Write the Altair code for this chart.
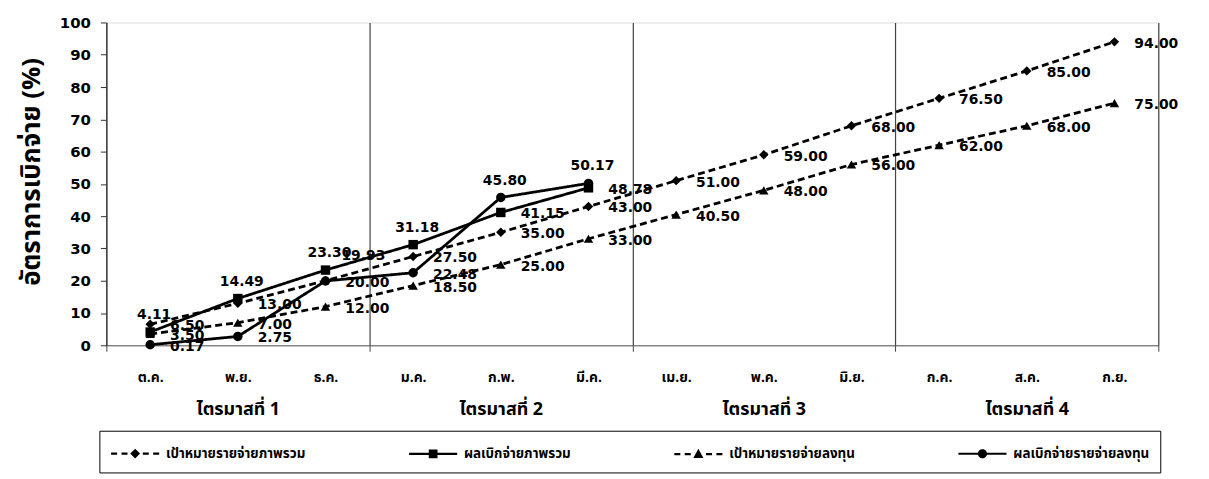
import altair as alt
import pandas as pd

# ---- data ----
months = ["ต.ค.", "พ.ย.", "ธ.ค.", "ม.ค.", "ก.พ.", "มี.ค.", "เม.ย.", "พ.ค.", "มิ.ย.", "ก.ค.", "ส.ค.", "ก.ย."]
quarters = ["ไตรมาสที่ 1", "ไตรมาสที่ 2", "ไตรมาสที่ 3", "ไตรมาสที่ 4"]
series_names = ["เป้าหมายรายจ่ายภาพรวม", "ผลเบิกจ่ายภาพรวม", "เป้าหมายรายจ่ายลงทุน", "ผลเบิกจ่ายรายจ่ายลงทุน"]

target_total = [6.50, 13.00, 20.00, 27.50, 35.00, 43.00, 51.00, 59.00, 68.00, 76.50, 85.00, 94.00]
actual_total = [4.11, 14.49, 23.30, 31.18, 41.15, 48.78]
target_invest = [3.50, 7.00, 12.00, 18.50, 25.00, 33.00, 40.50, 48.00, 56.00, 62.00, 68.00, 75.00]
actual_invest = [0.17, 2.75, 19.93, 22.48, 45.80, 50.17]

# label placement (style) per point
place_target_total = ["right"] * 12
place_actual_total = ["top", "top", "top", "top", "right", "right"]
place_target_invest = ["right"] * 12
place_actual_invest = ["right", "right", "topright", "right", "top", "top"]

rows = []
for name, vals, places in [
    (series_names[0], target_total, place_target_total),
    (series_names[1], actual_total, place_actual_total),
    (series_names[2], target_invest, place_target_invest),
    (series_names[3], actual_invest, place_actual_invest),
]:
    for i, v in enumerate(vals):
        rows.append({"m": i + 1, "series": name, "value": v, "place": places[i]})
df = pd.DataFrame(rows)

THAI = "Tahoma, 'Noto Sans Thai', 'Noto Sans Thai UI', Garuda, Loma, Kinnari, 'DejaVu Sans', sans-serif"
NUM = "'DejaVu Sans', Tahoma, sans-serif"

W, H = 1059, 325
xscale = alt.Scale(domain=[0.5, 12.5], nice=False, zero=False)
yscale = alt.Scale(domain=[0, 100], nice=False, zero=True)

yenc = alt.Y(
    "value:Q", scale=yscale,
    axis=alt.Axis(values=list(range(0, 101, 10)), grid=False, title="อัตราการเบิกจ่าย (%)",
                  orient="left",
                  titleFont=THAI, titleFontSize=26, titleFontWeight="bold", titleColor="black",
                  titlePadding=15, titleY=150,
                  labelFont=NUM, labelFontSize=15, labelFontWeight="bold",
                  labelColor="black", tickColor="#333", tickSize=6, domainColor="#333",
                  labelPadding=10),
)

base = alt.Chart(df)

month_expr = "[" + ",".join("'%s'" % s for s in months) + "][datum.value - 1]"
quarter_expr = "[" + ",".join("'%s'" % s for s in quarters) + "][(datum.value - 2) / 3]"

x_grid = alt.X("m:Q", scale=xscale, axis=alt.Axis(
    orient="bottom",
    values=[0.5, 3.5, 6.5, 9.5, 12.5], grid=True, gridColor="#444", gridWidth=1.2,
    labels=False, ticks=True, tickSize=6, tickColor="#444", domain=True, domainColor="#555", title=None))
x_month = alt.X("m:Q", scale=xscale, axis=alt.Axis(
    orient="bottom",
    values=list(range(1, 13)), labelExpr=month_expr, grid=False, ticks=False, domain=False,
    labelFont=THAI, labelFontSize=14, labelFontWeight="bold", labelColor="black",
    labelPadding=25, title=None))
x_quarter = alt.X("m:Q", scale=xscale, axis=alt.Axis(
    orient="bottom",
    values=[2, 5, 8, 11], labelExpr=quarter_expr, grid=False, ticks=False, domain=False,
    labelFont=THAI, labelFontSize=18, labelFontWeight="bold", labelColor="black",
    labelPadding=56, title=None))
x_none = alt.X("m:Q", scale=xscale, axis=None)

lines = base.mark_line(color="black", strokeWidth=2.8).encode(
    x=x_grid, y=yenc,
    strokeDash=alt.StrokeDash("series:N", scale=alt.Scale(domain=series_names,
                              range=[[7, 4], [1, 0], [7, 4], [1, 0]]), legend=None),
    detail="series:N",
)

points = base.mark_point(filled=True, color="black", opacity=1, size=90).encode(
    x=x_month, y=yenc,
    shape=alt.Shape("series:N", scale=alt.Scale(domain=series_names,
                    range=["diamond", "square", "triangle-up", "circle"]), legend=None),
)

txt = dict(font=NUM, fontSize=14, fontWeight="bold", color="black")
lab_right = base.transform_filter("datum.place == 'right'").mark_text(
    align="left", baseline="middle", dx=20, dy=2, **txt).encode(
    x=x_none, y=yenc, text=alt.Text("value:Q", format=".2f"))
lab_top = base.transform_filter("datum.place == 'top'").mark_text(
    align="center", baseline="middle", dx=4, dy=-17, **txt).encode(
    x=x_quarter, y=yenc, text=alt.Text("value:Q", format=".2f"))
lab_tr = base.transform_filter("datum.place == 'topright'").mark_text(
    align="left", baseline="middle", dx=16, dy=-25, **txt).encode(
    x=x_none, y=yenc, text=alt.Text("value:Q", format=".2f"))

# legend symbols drawn entirely as filled shapes (line pieces are thin rectangles)
def seg(a, b, t=0.1):
    return "M%.2f,%.2fH%.2fV%.2fH%.2fZ" % (a, -t, b, t, a)

dashes = seg(-2.2, -1.65) + seg(-1.25, -0.7) + seg(0.7, 1.25) + seg(1.65, 2.2)
leg_paths = [
    dashes + "M-0.45,0L0,-0.45L0.45,0L0,0.45Z",
    seg(-2.2, 2.2) + "M-0.4,-0.4H0.4V0.4H-0.4Z",
    dashes + "M0,-0.5L0.46,0.36L-0.46,0.36Z",
    seg(-2.2, 2.2) + "M-0.42,0A0.42,0.42,0,1,1,0.42,0A0.42,0.42,0,1,1,-0.42,0Z",
]

legend_layer = base.transform_filter("false").mark_point(
    filled=True, color="black", opacity=1).encode(
    x=x_none, y=yenc,
    shape=alt.Shape("series:N", scale=alt.Scale(domain=series_names, range=leg_paths),
                    legend=alt.Legend(
                        title=None, orient="none", legendX=-7, legendY=411,
                        direction="horizontal", columns=4, symbolSize=484,
                        symbolOffset=13, labelOffset=19, columnPadding=100,
                        labelFont=THAI, labelFontSize=13.5, labelFontWeight="bold",
                        labelColor="black", labelLimit=400, padding=11,
                        strokeColor="black", fillColor="white",
                        symbolFillColor="black", symbolOpacity=1,
                    )),
)

chart = alt.layer(lines, points, lab_right, lab_top, lab_tr, legend_layer).resolve_scale(
    shape="independent").resolve_axis(x="independent").properties(
    width=W, height=H,
    padding={"left": 99, "top": 13, "right": 43, "bottom": 130},
    autosize=alt.AutoSizeParams(type="none"),
).configure_view(stroke="#666", strokeWidth=1).configure(background="white")

chart.save("out.html", embed_options={"renderer": "svg", "actions": False})
